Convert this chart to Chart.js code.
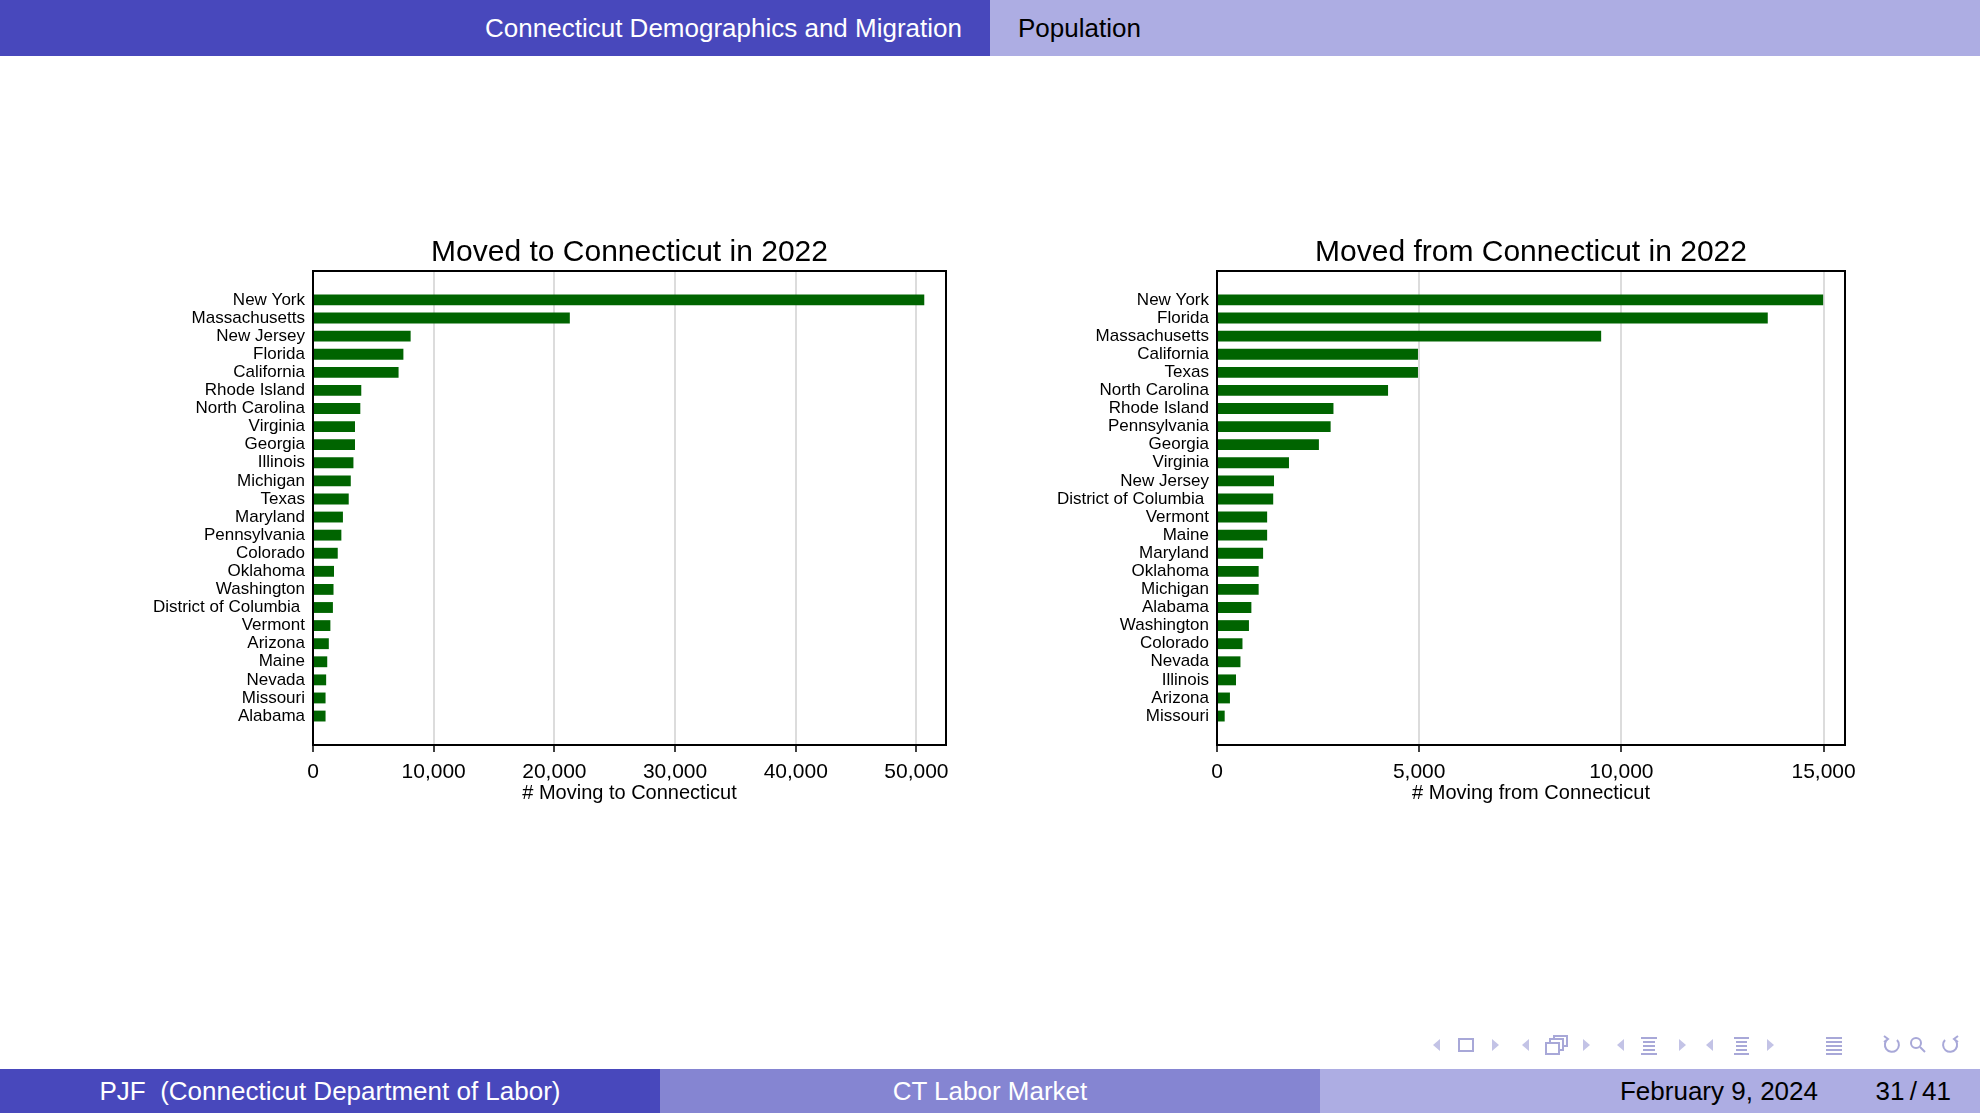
<!DOCTYPE html>
<html>
<head>
<meta charset="utf-8">
<script src="https://cdn.jsdelivr.net/npm/chart.js@4.4.1/dist/chart.umd.min.js"></script>
<style>
  html, body { margin: 0; padding: 0; background: #fff; }
  body { width: 1980px; height: 1113px; position: relative; overflow: hidden; font-family: "Liberation Sans", Arial, sans-serif; }
  .bar { position: absolute; display: flex; align-items: center; font-size: 26px; }
  #hdrL { left: 0; top: 0; width: 990px; height: 56px; background: #4848bc; color: #fff; justify-content: flex-end; }
  #hdrL span { margin-right: 28px; }
  #hdrR { left: 990px; top: 0; width: 990px; height: 56px; background: #adade3; color: #000; }
  #hdrR span { margin-left: 28px; }
  #ftL { left: 0; top: 1069px; width: 660px; height: 44px; background: #4848bc; color: #fff; justify-content: center; }
  #ftM { left: 660px; top: 1069px; width: 660px; height: 44px; background: #8585d2; color: #fff; justify-content: center; }
  #ftR { left: 1320px; top: 1069px; width: 660px; height: 44px; background: #adade3; color: #000; }
  #ftR .date { position: absolute; right: 162px; }
  #ftR .page { position: absolute; right: 29px; }
  canvas { position: absolute; }
  #nav { position: absolute; left: 1420px; top: 1030px; }
</style>
</head>
<body>
<div class="bar" id="hdrL"><span>Connecticut Demographics and Migration</span></div>
<div class="bar" id="hdrR"><span>Population</span></div>

<canvas id="inChart" width="990" height="620" style="left:0;top:200px;"></canvas>
<canvas id="outChart" width="990" height="620" style="left:990px;top:200px;"></canvas>

<svg id="nav" width="560" height="30" viewBox="1420 1030 560 30">
  <g fill="#c3c3e6" stroke="none">
    <polygon points="1440,1039 1440,1051 1433,1045"/>
    <polygon points="1492,1039 1492,1051 1499,1045"/>
    <polygon points="1529,1039 1529,1051 1522,1045"/>
    <polygon points="1583,1039 1583,1051 1590,1045"/>
    <polygon points="1624,1039 1624,1051 1617,1045"/>
    <polygon points="1679,1039 1679,1051 1686,1045"/>
    <polygon points="1713,1039 1713,1051 1706,1045"/>
    <polygon points="1767,1039 1767,1051 1774,1045"/>
  </g>
  <g fill="none" stroke="#a8a8d8" stroke-width="2">
    <rect x="1459" y="1039" width="14" height="12"/>
    <rect x="1546" y="1043" width="13" height="11"/>
    <polyline points="1550,1043 1550,1039 1563,1039 1563,1050 1559,1050"/>
    <polyline points="1554,1039 1554,1036 1567,1036 1567,1046 1563,1046"/>
    <path d="M1641 1038h16 M1643 1042h12 M1643 1046h12 M1643 1050h12 M1641 1054h16"/>
    <path d="M1734 1038h15 M1736 1042h11 M1736 1046h11 M1736 1050h11 M1734 1054h15"/>
    <path d="M1826 1038h16 M1826 1042h16 M1826 1046h16 M1826 1050h16 M1826 1054h16"/>
    <path d="M1897 1040 A7 7 0 1 1 1888 1039 M1884 1036 l4 3 -4 3"/>
    <circle cx="1916" cy="1043" r="5"/>
    <path d="M1920 1047 l5 5"/>
    <path d="M1945 1040 A7 7 0 1 0 1954 1039 M1958 1036 l-4 3 4 3"/>
  </g>
</svg>

<div class="bar" id="ftL"><span>PJF&nbsp;&nbsp;(Connecticut Department of Labor)</span></div>
<div class="bar" id="ftM"><span>CT Labor Market</span></div>
<div class="bar" id="ftR"><span class="date">February 9, 2024</span><span class="page">31&thinsp;/&thinsp;41</span></div>

<script>
// Moved to Connecticut in 2022
const statesIn = ['New York', 'Massachusetts', 'New Jersey', 'Florida', 'California', 'Rhode Island',
  'North Carolina', 'Virginia', 'Georgia', 'Illinois', 'Michigan', 'Texas', 'Maryland', 'Pennsylvania',
  'Colorado', 'Oklahoma', 'Washington', 'District of Columbia ', 'Vermont', 'Arizona', 'Maine', 'Nevada',
  'Missouri', 'Alabama'];
const movedIn = [50650, 21280, 8090, 7490, 7090, 4000, 3920, 3480, 3480, 3350, 3130, 2960, 2480, 2350,
  2050, 1740, 1700, 1650, 1440, 1310, 1180, 1090, 1040, 1040];
const ticksIn = [0, 10000, 20000, 30000, 40000, 50000];

// Moved from Connecticut in 2022
const statesOut = ['New York', 'Florida', 'Massachusetts', 'California', 'Texas', 'North Carolina',
  'Rhode Island', 'Pennsylvania', 'Georgia', 'Virginia', 'New Jersey', 'District of Columbia ', 'Vermont',
  'Maine', 'Maryland', 'Oklahoma', 'Michigan', 'Alabama', 'Washington', 'Colorado', 'Nevada', 'Illinois',
  'Arizona', 'Missouri'];
const movedOut = [14990, 13620, 9500, 4970, 4970, 4230, 2880, 2810, 2520, 1780, 1410, 1390, 1240, 1240,
  1140, 1030, 1030, 850, 790, 630, 580, 470, 320, 190];
const ticksOut = [0, 5000, 10000, 15000];

const FONT = '"Liberation Sans", Arial, sans-serif';
Chart.defaults.font.family = FONT;
Chart.defaults.color = '#000';

// title centred over the plot region, plus the black frame round it
const framePlugin = {
  id: 'frame',
  afterDatasetsDraw(chart, args, opts) {
    const {ctx, chartArea: a} = chart;
    ctx.save();
    ctx.strokeStyle = '#000';
    ctx.lineWidth = 2;
    ctx.strokeRect(a.left, a.top, a.right - a.left, a.bottom - a.top);
    ctx.fillStyle = '#000';
    ctx.font = '30px ' + FONT;
    ctx.textAlign = 'center';
    ctx.textBaseline = 'middle';
    ctx.fillText(opts.text, (a.left + a.right) / 2, a.top - 18);
    ctx.restore();
  }
};

function makeChart(id, states, values, xTicks, xMax, axisTitle, chartTitle, yWidth, padRight) {
  const ctx = document.getElementById(id).getContext('2d');
  return new Chart(ctx, {
    type: 'bar',
    data: {
      datasets: [{
        data: values.map((v, i) => ({x: v, y: i})),
        backgroundColor: '#006400',
        borderWidth: 0,
        barPercentage: 0.6,
        categoryPercentage: 1
      }]
    },
    options: {
      indexAxis: 'y',
      responsive: false,
      animation: false,
      layout: { padding: { left: 0, right: padRight, top: 71, bottom: 15 } },
      plugins: {
        legend: { display: false },
        tooltip: { enabled: false },
        frame: { text: chartTitle }
      },
      scales: {
        x: {
          type: 'linear',
          min: 0,
          max: xMax,
          afterBuildTicks: s => { s.ticks = xTicks.map(v => ({value: v})); },
          afterFit: s => { s.height = 60; },
          border: { display: false },
          grid: { color: '#dcdcdc', lineWidth: 2, drawTicks: true, tickLength: 7, tickColor: '#000', tickWidth: 1.5 },
          ticks: { font: { size: 21 }, padding: 8, maxRotation: 0, callback: v => v.toLocaleString('en-US') },
          title: { display: true, text: axisTitle, font: { size: 20 }, padding: 0 }
        },
        y: {
          type: 'linear',
          reverse: true,
          offset: false,
          min: -1.6,
          max: states.length - 1 + 1.6,
          afterBuildTicks: s => { s.ticks = states.map((_, i) => ({value: i})); },
          afterFit: s => { s.width = yWidth; },
          border: { display: false },
          grid: { display: false, drawTicks: false },
          ticks: { font: { size: 17 }, padding: 8, autoSkip: false, callback: v => states[v] }
        }
      }
    },
    plugins: [framePlugin]
  });
}

makeChart('inChart', statesIn, movedIn, ticksIn, 52450, '# Moving to Connecticut',
  'Moved to Connecticut in 2022', 313, 44);
makeChart('outChart', statesOut, movedOut, ticksOut, 15530, '# Moving from Connecticut',
  'Moved from Connecticut in 2022', 227, 135);
</script>
</body>
</html>
